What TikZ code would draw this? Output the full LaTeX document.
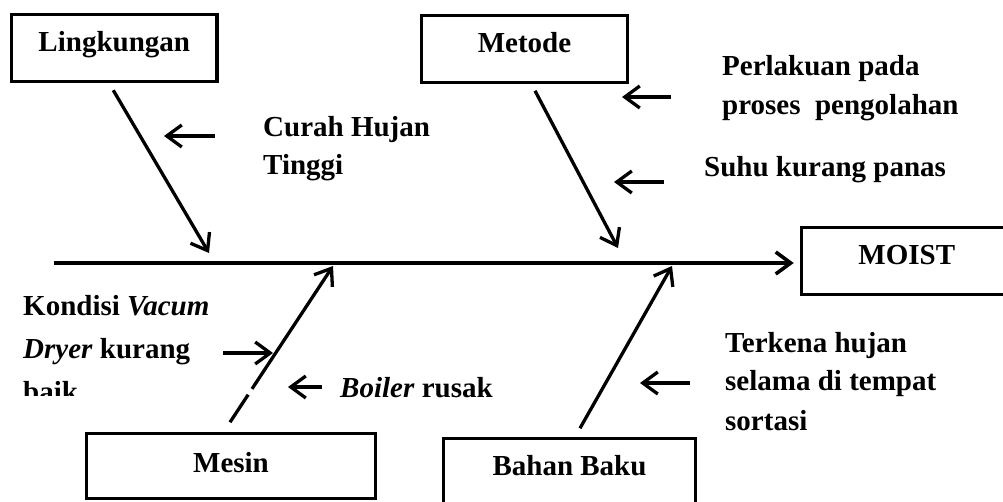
\documentclass[tikz,border=0pt]{standalone}
\usepackage{fontspec}
\setmainfont{Liberation Serif}
\usetikzlibrary{arrows.meta,calc}
\begin{document}
\begin{tikzpicture}[x=1pt,y=-1pt,
  arr/.style={line width=3.3pt,-{Straight Barb[length=15pt,width=22pt]}},
  box/.style 2 args={draw,line width=3.5pt,inner xsep=0pt,inner ysep=0pt,
    text height=#1,text depth=#2,anchor=base,
    font=\fontsize{29pt}{38pt}\selectfont\bfseries},
  lbl/.style={inner sep=0pt,anchor=base west,
    font=\fontsize{29pt}{38pt}\selectfont\bfseries}]
\useasboundingbox[fill=white] (0,0) rectangle (1003,502);

% category boxes
\node[box={37.5pt}{29.5pt},minimum width=205.5pt] (ling) at (114.25,52) {Lingkungan};
\node[box={37.5pt}{29.5pt},minimum width=206pt] (meth) at (524.5,53) {Metode};
\node[box={37.5pt}{29.5pt},minimum width=210.5pt] (moist) at (906.75,265) {MOIST};
\node[box={38.5pt}{26.5pt},minimum width=289pt] (mesin) at (231,472) {Mesin};
\node[box={36.5pt}{31pt},minimum width=252pt] (bahan) at (569.5,475) {Bahan Baku};

% spine
\coordinate (spL) at (54,263);
\draw[arr,line width=3.6pt,shorten >=6pt] (spL) -- (moist.west |- spL);

% branches
\coordinate (tipL) at (209,253);
\coordinate (tipM) at (618,248);
\coordinate (tipS) at (333,266);
\coordinate (tipB) at (672,266);
\draw[arr] ($(ling.south)+(-1,7)$) -- (tipL);
\draw[arr] ($(meth.south)+(10.5,6.5)$) -- (tipM);
\draw[arr,dash pattern=on 33pt off 7pt on 400pt] ($(mesin.north)+(-1,-9.5)$) -- (tipS);
\draw[arr] ($(bahan.north)+(10.5,-8.5)$) -- (tipB);

% cause texts
\node[lbl] (curah) at (263,137) {\vtop{\baselineskip=38pt\hbox{Curah Hujan}\hbox{Tinggi}}};
\node[lbl] (perl) at (722,76) {\vtop{\baselineskip=39pt\hbox{Perlakuan pada}\hbox{proses\ \ pengolahan}}};
\node[lbl] (suhu) at (704,177) {Suhu kurang panas};
\begin{scope}
\clip (0,270) rectangle (253,395);
\node[lbl] (kond) at (23,316) {\vtop{\baselineskip=43pt\hbox{Kondisi \textit{Vacum}}\hbox{\textit{Dryer} kurang}\hbox{baik}}};
\end{scope}
\node[lbl] (boil) at (340,397) {\textit{Boiler} rusak};
\node[lbl] (terk) at (725,352) {\vtop{\baselineskip=39pt\hbox{Terkena hujan}\hbox{selama di tempat}\hbox{sortasi}}};

% small cause arrows
\coordinate (a1s) at (215,136); \coordinate (a1e) at (164,136);
\coordinate (a2s) at (671,97);  \coordinate (a2e) at (622,97);
\coordinate (a3s) at (664,182); \coordinate (a3e) at (614,182);
\coordinate (a4s) at (223,353); \coordinate (a4e) at (273,353);
\coordinate (a5s) at (322,387); \coordinate (a5e) at (288,387);
\coordinate (a6s) at (690,383); \coordinate (a6e) at (640,383);
\draw[arr] (a1s) -- (a1e);
\draw[arr] (a2s) -- (a2e);
\draw[arr] (a3s) -- (a3e);
\draw[arr] (a4s) -- (a4e);
\draw[arr] (a5s) -- (a5e);
\draw[arr] (a6s) -- (a6e);
\end{tikzpicture}
\end{document}
